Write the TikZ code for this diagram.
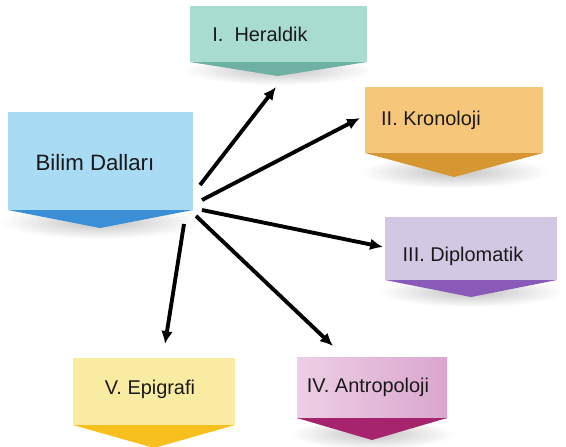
\documentclass[tikz,border=0pt]{standalone}
\usepackage{fontspec}
\setmainfont{Liberation Sans}
\usetikzlibrary{arrows.meta}
\definecolor{bilimL}{HTML}{A9DBF4}
\definecolor{bilimD}{HTML}{3B8FD6}
\definecolor{herL}{HTML}{A9DCD1}
\definecolor{herD}{HTML}{6EB0A3}
\definecolor{kroL}{HTML}{F6C67A}
\definecolor{kroD}{HTML}{D69632}
\definecolor{dipL}{HTML}{D3C8E4}
\definecolor{dipD}{HTML}{8A5AB9}
\definecolor{epiL}{HTML}{F9EBA2}
\definecolor{epiD}{HTML}{F7C01E}
\definecolor{antL}{HTML}{EDCFE5}
\definecolor{antR}{HTML}{DAA6CE}
\definecolor{antD}{HTML}{A6246E}
\begin{document}
\begin{tikzpicture}[x=0.03cm,y=-0.03cm,
  lbl/.style={font=\fontsize{17}{20}\selectfont, text=black!90, inner sep=0pt},
  arr/.style={line width=3.3pt, -{Latex[length=11pt,width=10pt]}},
  shadow/.style={inner color=black!24, outer color=white}]
\useasboundingbox (0,0) rectangle (566,446);
% soft shadows under the boxes
\shade[shadow] (100,222) ellipse (100 and 17);
\shade[shadow] (278,70) ellipse (94 and 15);
\shade[shadow] (454,172) ellipse (94 and 16);
\shade[shadow] (471,292) ellipse (92 and 15);
\shade[shadow] (372,434) ellipse (82 and 15);
% Bilim Dallari
\fill[bilimL] (8,112) rectangle (193,210);
\fill[bilimD] (8,210) -- (193,210) -- (100,228) -- cycle;
\node[lbl, font=\fontsize{19}{22}\selectfont] (bilim) at (95,163) {Bilim Dalları};
% I. Heraldik
\fill[herL] (190,6) rectangle (367,62);
\fill[herD] (190,62) -- (367,62) -- (278,76) -- cycle;
\node[lbl] (her) at (260,34) {I.\ \ Heraldik};
% II. Kronoloji
\fill[kroL] (365,87) rectangle (543,153);
\fill[kroD] (365,153) -- (543,153) -- (454,177) -- cycle;
\node[lbl] (kro) at (431,120) {II. Kronoloji};
% III. Diplomatik
\fill[dipL] (385,217) rectangle (557,280);
\fill[dipD] (385,280) -- (557,280) -- (471,297) -- cycle;
\node[lbl] (dip) at (463,256) {III. Diplomatik};
% IV. Antropoloji
\shade[left color=antL, right color=antR] (297,357) rectangle (447,418);
\fill[antD] (297,418) -- (447,418) -- (372,440) -- cycle;
\node[lbl] (ant) at (368,387) {IV. Antropoloji};
% V. Epigrafi
\fill[epiL] (73,358) rectangle (235,425);
\fill[epiD] (73,425) -- (235,425) -- (154,448) -- cycle;
\node[lbl] (epi) at (150,389) {V. Epigrafi};
% arrows
\coordinate (o1) at (200,185);
\coordinate (o2) at (202,200);
\coordinate (o3) at (202,210);
\coordinate (o4) at (196,216);
\coordinate (o5) at (184,224);
\coordinate (herIn) at (276,87);
\coordinate (kroIn) at (360,118);
\coordinate (dipIn) at (383,247);
\coordinate (antIn) at (333,346);
\coordinate (epiIn) at (165,344);
\draw[arr] (o1) -- (herIn);
\draw[arr] (o2) -- (kroIn);
\draw[arr] (o3) -- (dipIn);
\draw[arr] (o4) -- (antIn);
\draw[arr] (o5) -- (epiIn);
\end{tikzpicture}
\end{document}
